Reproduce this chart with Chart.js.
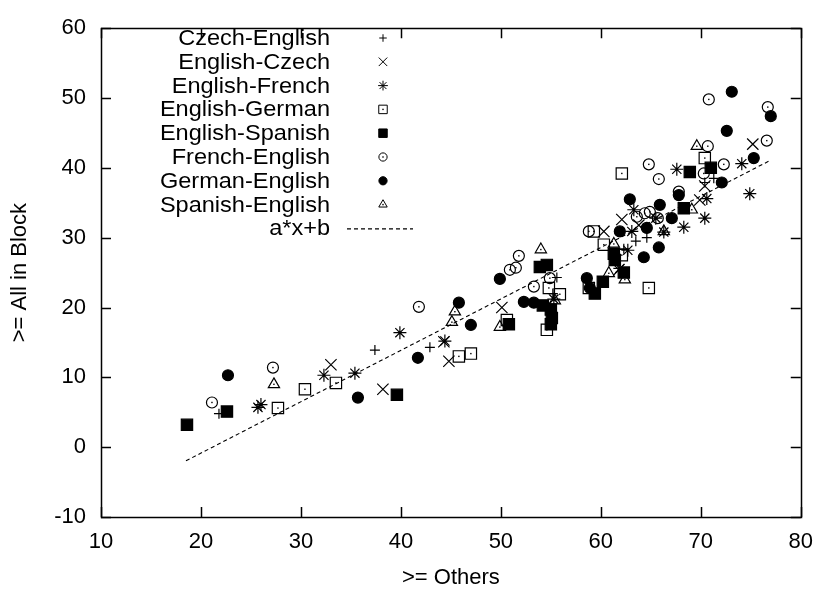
<!DOCTYPE html>
<html>
<head>
<meta charset="utf-8">
<script src="https://cdn.jsdelivr.net/npm/chart.js@4"></script>
<style>
  body { margin: 0; background: #fff; }
  #wrap { width: 825px; height: 594px; }
</style>
</head>
<body>
<div id="wrap"><canvas id="scatter"></canvas></div>
<script>
// values, [others, allInBlock]
const czechEnglish = [[21.8,4.8],[37.4,13.9],[42.9,14.3],[55.6,24.3],[55.2,22.0],[62.3,28.4],[63.5,29.5],[64.6,30.0],[70.4,37.9],[71.3,38.5]];
const englishCzech = [[33.0,11.8],[38.2,8.3],[44.3,15.1],[44.8,12.3],[50.1,20.0],[60.3,30.9],[61.8,25.4],[62.1,32.6],[63.8,31.8],[69.9,35.4],[70.4,37.4],[75.2,43.4]];
const englishFrench = [[25.7,5.7],[26.0,6.1],[32.3,10.3],[35.4,10.6],[39.9,16.4],[44.4,15.2],[55.3,21.2],[61.9,25.6],[62.7,28.2],[63.1,30.9],[63.3,34.0],[65.5,32.8],[66.3,30.8],[67.6,39.8],[68.3,31.5],[70.4,32.8],[70.6,35.6],[74.1,40.6],[74.9,36.3]];
const englishGerman = [[27.7,5.6],[30.4,8.3],[33.5,9.2],[45.8,13.0],[47.0,13.4],[50.6,18.2],[54.6,16.8],[54.8,22.8],[55.9,21.9],[58.8,22.8],[59.3,30.9],[60.3,29.0],[62.1,27.5],[62.1,39.2],[64.8,22.8],[70.4,41.4]];
const englishSpanish = [[18.6,3.2],[22.6,5.1],[39.6,7.5],[50.8,17.6],[53.9,25.8],[54.6,26.1],[54.2,20.3],[55.0,19.7],[55.1,18.5],[55.0,17.6],[59.4,22.0],[60.2,23.7],[61.3,27.7],[61.4,26.8],[62.3,25.0],[68.3,34.2],[68.9,39.4],[71.0,40.0]];
const frenchEnglish = [[21.1,6.4],[27.2,11.4],[41.8,20.1],[50.9,25.4],[51.5,25.7],[51.8,27.4],[53.3,23.0],[54.9,24.2],[58.8,30.9],[63.6,33.0],[64.4,33.5],[64.9,33.7],[65.7,32.8],[64.8,40.5],[65.8,38.4],[67.8,36.6],[70.3,39.2],[72.3,40.5],[70.8,49.8],[76.7,48.7],[70.7,43.1],[76.6,43.9]];
const germanEnglish = [[22.7,10.3],[35.7,7.1],[41.7,12.8],[45.8,20.7],[47.0,17.5],[49.9,24.1],[52.3,20.8],[53.3,20.7],[58.6,24.2],[58.9,22.8],[61.9,30.9],[62.9,35.5],[64.3,27.2],[64.6,31.4],[65.8,28.6],[65.9,34.7],[67.1,32.8],[67.8,36.1],[72.1,37.9],[72.6,45.3],[73.1,50.9],[75.3,41.4],[77.0,47.4]];
const spanishEnglish = [[27.3,9.0],[45.1,17.9],[45.4,19.4],[49.9,17.2],[54.0,28.3],[55.4,21.0],[60.8,24.9],[61.3,29.1],[62.4,24.0],[66.3,30.9],[69.1,34.0],[69.6,43.1]];

// fitted line a*x+b and the x range it is drawn over
const fitA = 0.736;
const fitB = -15.57;
const fitRange = [18.5, 77];

const xTicks = [10, 20, 30, 40, 50, 60, 70, 80];
const yTicks = [-10, 0, 10, 20, 30, 40, 50, 60];

const series = [
  { label: "Czech-English", data: czechEnglish, style: "cross", radius: 5, fill: false },
  { label: "English-Czech", data: englishCzech, style: "crossRot", radius: 8, fill: false },
  { label: "English-French", data: englishFrench, style: "star", radius: 6.5, fill: false },
  { label: "English-German", data: englishGerman, style: "rect", radius: 8, fill: false, dot: true },
  { label: "English-Spanish", data: englishSpanish, style: "rect", radius: 8, fill: true },
  { label: "French-English", data: frenchEnglish, style: "circle", radius: 5.5, fill: false, dot: true },
  { label: "German-English", data: germanEnglish, style: "circle", radius: 5.5, fill: true },
  { label: "Spanish-English", data: spanishEnglish, style: "triangle", radius: 6.5, fill: false, dot: true },
];

Chart.defaults.font.family = "'Liberation Sans', Arial, sans-serif";
Chart.defaults.font.size = 22;
Chart.defaults.color = "#000";

const datasets = series.map((s) => ({
  label: s.label,
  data: s.data.map(([x, y]) => ({ x, y })),
  pointStyle: s.style,
  pointRadius: s.radius,
  pointBorderWidth: 1.2,
  borderColor: "#000",
  backgroundColor: s.fill ? "#000" : "rgba(0,0,0,0)",
  showLine: false,
  dot: !!s.dot,
}));

datasets.push({
  label: "a*x+b",
  type: "line",
  data: fitRange.map((x) => ({ x, y: fitA * x + fitB })),
  borderColor: "#000",
  borderWidth: 1.1,
  borderDash: [4, 3],
  pointRadius: 0,
  fill: false,
});

// small dot in the middle of the open markers, like gnuplot
const centerDots = {
  id: "centerDots",
  afterDatasetsDraw(chart) {
    const ctx = chart.ctx;
    ctx.save();
    ctx.fillStyle = "#000";
    chart.data.datasets.forEach((ds, i) => {
      if (!ds.dot) return;
      chart.getDatasetMeta(i).data.forEach((pt) => {
        ctx.fillRect(pt.x - 0.7, pt.y - 0.7, 1.4, 1.4);
      });
    });
    ctx.restore();
  },
};

// frame with inward ticks on all four sides
const frameTicks = {
  id: "frameTicks",
  afterDraw(chart) {
    const { ctx, chartArea: a } = chart;
    const { x, y } = chart.scales;
    const len = 10;
    ctx.save();
    ctx.strokeStyle = "#000";
    ctx.lineWidth = 1.5;
    ctx.beginPath();
    x.ticks.forEach((t) => {
      const px = Math.round(x.getPixelForValue(t.value)) + 0.5;
      ctx.moveTo(px, a.bottom); ctx.lineTo(px, a.bottom - len);
      ctx.moveTo(px, a.top); ctx.lineTo(px, a.top + len);
    });
    y.ticks.forEach((t) => {
      const py = Math.round(y.getPixelForValue(t.value)) + 0.5;
      ctx.moveTo(a.left, py); ctx.lineTo(a.left + len, py);
      ctx.moveTo(a.right, py); ctx.lineTo(a.right - len, py);
    });
    ctx.stroke();
    ctx.strokeRect(Math.round(a.left) + 0.5, Math.round(a.top) + 0.5,
      Math.round(a.right - a.left), Math.round(a.bottom - a.top));
    ctx.restore();
  },
};

// gnuplot style key: text right aligned, sample to its right
const gnuKey = {
  id: "gnuKey",
  afterDraw(chart) {
    const ctx = chart.ctx;
    const textRight = 330, markX = 383, lineL = 347, lineR = 413;
    const top = 38, step = 23.8;
    ctx.save();
    ctx.font = "22px 'Liberation Sans', Arial, sans-serif";
    ctx.textAlign = "right";
    ctx.textBaseline = "middle";
    ctx.strokeStyle = "#000";
    chart.data.datasets.forEach((ds, i) => {
      const yy = top + i * step;
      ctx.save();
      ctx.translate(textRight, yy);
      ctx.scale(1.07, 1);
      ctx.fillStyle = "#000";
      ctx.fillText(ds.label, 0, 1);
      ctx.restore();
      if (ds.type === "line") {
        ctx.save();
        ctx.lineWidth = ds.borderWidth;
        ctx.setLineDash(ds.borderDash);
        ctx.beginPath();
        ctx.moveTo(lineL, yy + 0.5);
        ctx.lineTo(lineR, yy + 0.5);
        ctx.stroke();
        ctx.restore();
        return;
      }
      ctx.fillStyle = ds.backgroundColor;
      ctx.lineWidth = 1;
      Chart.helpers.drawPoint(ctx, {
        pointStyle: ds.pointStyle,
        radius: ds.pointRadius * 0.75,
        rotation: 0,
        borderWidth: 1,
      }, markX, yy);
      if (ds.dot) {
        ctx.fillStyle = "#000";
        ctx.fillRect(markX - 0.7, yy - 0.7, 1.4, 1.4);
      }
    });
    ctx.restore();
  },
};

new Chart(document.getElementById("scatter"), {
  type: "scatter",
  data: { datasets },
  options: {
    responsive: true,
    maintainAspectRatio: false,
    animation: false,
    layout: { padding: { left: 0, right: 24, top: 15, bottom: 0 } },
    plugins: { legend: { display: false }, tooltip: { enabled: false } },
    scales: {
      x: {
        type: "linear",
        min: 10,
        max: 80,
        afterBuildTicks: (scale) => { scale.ticks = xTicks.map((v) => ({ value: v })); },
        afterFit: (scale) => { scale.height = 77; },
        grid: { display: false, drawTicks: false },
        border: { display: false },
        ticks: { padding: 12, color: "#000" },
        title: { display: true, text: ">= Others", color: "#000", padding: { top: 0, bottom: 3 } },
      },
      y: {
        type: "linear",
        min: -10,
        max: 60,
        afterBuildTicks: (scale) => { scale.ticks = yTicks.map((v) => ({ value: v })); },
        afterFit: (scale) => { scale.width = 101; },
        grid: { display: false, drawTicks: false },
        border: { display: false },
        ticks: { padding: 15, color: "#000" },
        title: { display: true, text: ">= All in Block", color: "#000", padding: { top: 7, bottom: 0 } },
      },
    },
  },
  plugins: [centerDots, frameTicks, gnuKey],
});
</script>
</body>
</html>
